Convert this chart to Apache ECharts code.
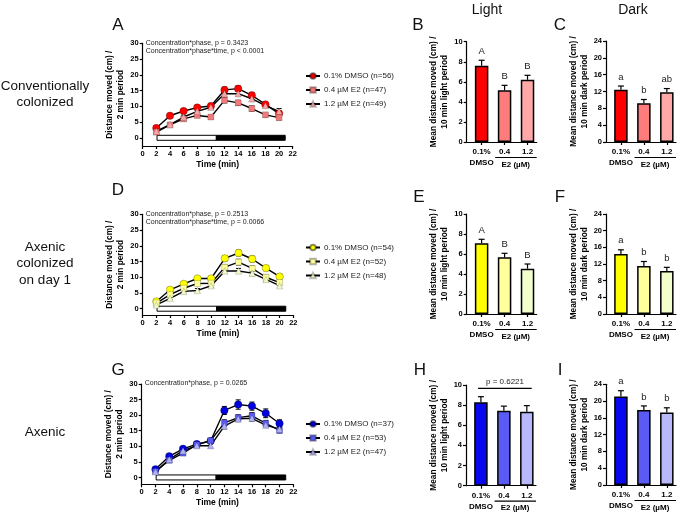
<!DOCTYPE html>
<html><head><meta charset="utf-8">
<script src="https://cdn.jsdelivr.net/npm/echarts@6/dist/echarts.min.js"></script>
<style>html,body{margin:0;padding:0;background:#fff}#c{width:685px;height:516px}</style>
</head><body><div id="c"></div>
<script>
// ---------- DATA ----------
const timePoints = [2,4,6,8,10,12,14,16,18,20];
const lineYTicks = [0,5,10,15,20,25,30];
const phases = [[2.1,10.8,'light'],[10.8,20.9,'dark']];
const barCats = ['0.1%\nDMSO','0.4','1.2'];

// Panel A (conventionally colonized)
const aNames = ['0.1% DMSO (n=56)','0.4 µM E2 (n=47)','1.2 µM E2 (n=49)'];
const aDmso = [3.1,7.0,8.5,9.6,10.1,15.2,15.6,13.5,10.6,7.7];
const aE04  = [1.8,4.1,6.0,7.1,6.6,11.9,11.1,9.3,7.3,6.4];
const aE12  = [2.1,4.2,6.6,8.4,9.7,14.0,14.0,12.4,10.2,8.4];
const aDmsoErr = [0.5,0.5,0.6,0.6,0.7,0.9,0.9,0.9,0.8,0.9];
const aE04Err  = [0.4,0.4,0.6,0.6,0.6,0.8,0.8,0.8,0.7,0.7];
const aE12Err  = [0.4,0.5,0.6,0.6,0.7,0.9,0.9,0.9,0.9,0.9];
const aStats = ['Concentration*phase, p = 0.3423','Concentration*phase*time, p < 0.0001'];

// Panel D (axenic colonized on day 1)
const dNames = ['0.1% DMSO (n=54)','0.4 µM E2 (n=52)','1.2 µM E2 (n=48)'];
const dDmso = [2.3,6.0,7.9,9.6,9.6,16.0,17.7,15.8,12.9,10.2];
const dE04  = [1.8,4.5,6.5,8.0,8.1,13.2,14.8,12.8,10.0,8.3];
const dE12  = [1.2,3.3,5.5,5.8,7.3,12.0,12.0,11.3,9.3,7.3];
const dDmsoErr = [0.4,0.5,0.6,0.6,0.7,0.8,0.9,0.9,0.8,0.8];
const dE04Err  = [0.4,0.5,0.6,0.6,0.6,0.8,0.9,0.8,0.7,0.7];
const dE12Err  = [0.4,0.5,0.5,0.6,0.6,0.8,0.8,0.8,0.7,0.7];
const dStats = ['Concentration*phase, p = 0.2513','Concentration*phase*time, p = 0.0066'];

// Panel G (axenic)
const gNames = ['0.1% DMSO (n=37)','0.4 µM E2 (n=53)','1.2 µM E2 (n=47)'];
const gDmso = [2.6,6.8,9.2,10.7,11.7,21.5,23.4,22.9,20.6,17.3];
const gE04  = [1.9,5.5,7.8,10.5,11.8,17.5,19.2,19.8,17.4,15.1];
const gE12  = [1.8,5.8,8.6,10.2,10.2,16.5,18.8,19.0,16.8,15.5];
const gDmsoErr = [0.5,0.6,0.7,0.7,0.8,1.3,1.5,1.3,1.4,1.2];
const gE04Err  = [0.4,0.5,0.6,0.6,0.7,1.0,0.9,1.0,0.9,0.8];
const gE12Err  = [0.4,0.5,0.6,0.6,0.6,0.9,0.9,0.9,0.8,0.8];
const gStats = ['Concentration*phase, p = 0.0265'];

// Bar panels: mean, SEM, letters
const bVals = [7.6,5.15,6.2];   const bErr = [0.55,0.5,0.45];  const bLetters = ['A','B','B'];
const cVals = [12.4,9.2,11.8];  const cErr = [0.9,0.9,0.9];    const cLetters = ['a','b','ab'];
const eVals = [7.07,5.67,4.53]; const eErr = [0.4,0.4,0.47];   const eLetters = ['A','B','B'];
const fVals = [14.4,11.5,10.3]; const fErr = [1.0,1.1,0.9];    const fLetters = ['a','b','b'];
const hVals = [8.28,7.45,7.35]; const hErr = [0.56,0.45,0.6];  const hLetters = ['','',''];
const iVals = [21.07,17.9,17.3];const iErr = [1.4,0.95,1.1];   const iLetters = ['a','b','b'];
const hPText = 'p = 0.6221';

// ---------- STYLE ----------
const FONT = '"Liberation Sans", Arial, Helvetica, sans-serif';
const redLine = ['#FF0000','#F37A7A','#F5A8A8'];
const redBar  = ['#FF0000','#FF7C7C','#FFA8A8'];
const yelLine = ['#FFFF00','#FFFF99','#EEF8C8'];
const yelBar  = ['#FFFF00','#FFFF9C','#F2FFCC'];
const bluLine = ['#0000E0','#5A5AF2','#B0B0F5'];
const bluBar  = ['#0808F0','#5A5AF5','#B8B8FA'];
const symbols = ['circle','rect','triangle'];
const symSizes = [7.5,6,6.5];
const symBorders = ['rgba(0,0,0,0.45)','rgba(0,0,0,0.3)','rgba(0,0,0,0.25)'];

const grids=[], xAxes=[], yAxes=[], series=[], legends=[], graphics=[];
const axLine = {show:true, onZero:false, lineStyle:{color:'#000', width:1.2}};
const axTick = {show:true, length:3, inside:false, lineStyle:{color:'#000', width:1.2}};
const tickFont = {fontSize:7.5, fontWeight:'bold', color:'#000', fontFamily:FONT};

function lineErrRender(params, api){
  const x=api.value(0), y=api.value(1), e=api.value(2);
  const lo=api.coord([x,y-e]), hi=api.coord([x,y+e]);
  const w=2.5, st={stroke:'#000', lineWidth:1};
  return {type:'group', children:[
    {type:'line', shape:{x1:lo[0],y1:lo[1],x2:hi[0],y2:hi[1]}, style:st},
    {type:'line', shape:{x1:lo[0]-w,y1:lo[1],x2:lo[0]+w,y2:lo[1]}, style:st},
    {type:'line', shape:{x1:hi[0]-w,y1:hi[1],x2:hi[0]+w,y2:hi[1]}, style:st}]};
}
function phaseRender(params, api){
  const a=api.coord([api.value(0),0]), b=api.coord([api.value(1),0]);
  const dark = params.dataIndex===1;
  return {type:'rect', shape:{x:a[0], y:a[1]-2.5, width:b[0]-a[0], height:5},
    style:{fill: dark?'#000':'#fff', stroke:'#000', lineWidth:1}};
}

function addLinePanel(cfg){
  const gi=grids.length;
  grids.push({left:cfg.left, top:cfg.top, width:cfg.width, height:cfg.height});
  xAxes.push({gridIndex:gi, type:'value', min:0, max:22, interval:2,
    axisLine:axLine, axisTick:axTick, splitLine:{show:false},
    axisLabel:Object.assign({margin:4}, tickFont),
    name:'Time (min)', nameLocation:'middle', nameGap:14,
    nameTextStyle:{fontSize:8.5, fontWeight:'bold', color:'#000', fontFamily:FONT}});
  yAxes.push({gridIndex:gi, type:'value', min:cfg.ymin, max:30,
    axisLine:axLine, splitLine:{show:false},
    axisTick:Object.assign({customValues:lineYTicks}, axTick),
    axisLabel:Object.assign({margin:4, customValues:lineYTicks}, tickFont),
    name:'Distance moved (cm) /\n2 min period', nameLocation:'middle', nameRotate:90, nameGap:13,
    nameTextStyle:{fontSize:8.3, fontWeight:'bold', color:'#000', fontFamily:FONT, lineHeight:11}});
  series.push({type:'custom', xAxisIndex:gi, yAxisIndex:gi, renderItem:phaseRender,
    data:phases.map(p=>[p[0],p[1]]), silent:true, z:1});
  cfg.vals.forEach((vals,k)=>{
    series.push({type:'custom', xAxisIndex:gi, yAxisIndex:gi, renderItem:lineErrRender,
      data:timePoints.map((t,i)=>[t, vals[i], cfg.errs[k][i]]), silent:true, z:2});
    series.push({type:'line', name:cfg.names[k], xAxisIndex:gi, yAxisIndex:gi,
      data:timePoints.map((t,i)=>[t, vals[i]]), symbol:symbols[k], symbolSize:symSizes[k],
      showAllSymbol:true, lineStyle:{color:'#000', width:1.4},
      itemStyle:{color:cfg.colors[k], borderColor:symBorders[k], borderWidth:0.6},
      emphasis:{disabled:true}, animation:false, z:3});
  });
  legends.push({data:cfg.names, orient:'vertical', left:cfg.legLeft, top:cfg.legTop,
    itemWidth:14, itemHeight:7, itemGap:6, selectedMode:false,
    textStyle:{fontSize:8, color:'#222', fontFamily:FONT, padding:[0,0,0,-1]}});
  cfg.stats.forEach((s,i)=>graphics.push({type:'text', left:cfg.left+3, top:cfg.top-4+i*8.5,
    style:{text:s, fontSize:7, fill:'#222', fontFamily:FONT}}));
}

function barErrRender(letters){
  return function(params, api){
    const x=api.value(0), y=api.value(1), e=api.value(2);
    const lo=api.coord([x,y]), hi=api.coord([x,y+e]);
    const w=3, st={stroke:'#000', lineWidth:1.2};
    const ch=[
      {type:'line', shape:{x1:lo[0],y1:lo[1],x2:hi[0],y2:hi[1]}, style:st},
      {type:'line', shape:{x1:hi[0]-w,y1:hi[1],x2:hi[0]+w,y2:hi[1]}, style:st}];
    const L=letters[params.dataIndex];
    if(L) ch.push({type:'text', x:hi[0], y:hi[1]-4, style:{text:L, fontSize:9.5, fill:'#222',
      fontFamily:FONT, align:'center', verticalAlign:'bottom'}});
    return {type:'group', children:ch};
  };
}

function addBarPanel(cfg){
  const gi=grids.length;
  grids.push({left:cfg.left, top:cfg.top, width:70, height:cfg.height});
  xAxes.push({gridIndex:gi, type:'value', min:-0.65, max:2.4,
    axisLine:axLine, splitLine:{show:false},
    axisTick:Object.assign({customValues:[0,1,2]}, axTick),
    axisLabel:Object.assign({margin:5, lineHeight:10.5, customValues:[0,1,2],
      formatter:v=>barCats[Math.round(v)]}, tickFont, {fontSize:8})});
  yAxes.push({gridIndex:gi, type:'value', min:0, max:cfg.max, interval:cfg.interval,
    axisLine:axLine, axisTick:axTick, splitLine:{show:false},
    axisLabel:Object.assign({margin:4}, tickFont),
    name:'Mean distance moved (cm) /\n10 min '+cfg.period+' period', nameLocation:'middle', nameRotate:90, nameGap:cfg.nameGap,
    nameTextStyle:{fontSize:8.3, fontWeight:'bold', color:'#000', fontFamily:FONT, lineHeight:11}});
  series.push({type:'bar', xAxisIndex:gi, yAxisIndex:gi, barWidth:13.5,
    data:cfg.vals.map((v,i)=>({value:[i,v], itemStyle:{color:cfg.colors[i]}})),
    itemStyle:{borderColor:'#000', borderWidth:1.5}, emphasis:{disabled:true}, z:2});
  series.push({type:'custom', xAxisIndex:gi, yAxisIndex:gi, renderItem:barErrRender(cfg.letters),
    data:cfg.vals.map((v,i)=>[i,v,cfg.errs[i]]), silent:true, z:3});
  const ly = cfg.top+cfg.height+15.5;
  graphics.push({type:'line', shape:{x1:cfg.left+28.5, y1:ly, x2:cfg.left+70, y2:ly}, style:{stroke:'#000', lineWidth:1.2}});
  graphics.push({type:'text', x:cfg.left+49, y:ly+3, style:{text:'E2 (µM)', fontSize:8, fontWeight:'bold', fill:'#000', fontFamily:FONT, align:'center', verticalAlign:'top'}});
}

// ---------- PANELS ----------
addLinePanel({left:142.7, top:43.3, width:150, height:102.7, ymin:-2.6,
  vals:[aDmso,aE04,aE12], errs:[aDmsoErr,aE04Err,aE12Err], names:aNames, colors:redLine,
  stats:aStats, legLeft:300, legTop:67});
addBarPanel({left:466.7, top:41.7, height:100.3, max:10, interval:2, period:'light', nameGap:16,
  vals:bVals, errs:bErr, letters:bLetters, colors:redBar});
addBarPanel({left:606, top:41, height:101, max:24, interval:4, period:'dark', nameGap:16,
  vals:cVals, errs:cErr, letters:cLetters, colors:redBar});

addLinePanel({left:142.7, top:214.3, width:150.6, height:100.7, ymin:-2.0,
  vals:[dDmso,dE04,dE12], errs:[dDmsoErr,dE04Err,dE12Err], names:dNames, colors:yelLine,
  stats:dStats, legLeft:300, legTop:238.5});
addBarPanel({left:466.7, top:214, height:100, max:10, interval:2, period:'light', nameGap:16,
  vals:eVals, errs:eErr, letters:eLetters, colors:yelBar});
addBarPanel({left:606, top:214, height:100, max:24, interval:4, period:'dark', nameGap:16,
  vals:fVals, errs:fErr, letters:fLetters, colors:yelBar});

addLinePanel({left:141.7, top:384, width:151.6, height:100.3, ymin:-2.2,
  vals:[gDmso,gE04,gE12], errs:[gDmsoErr,gE04Err,gE12Err], names:gNames, colors:bluLine,
  stats:gStats, legLeft:300, legTop:415});
addBarPanel({left:466, top:385, height:100.7, max:10, interval:2, period:'light', nameGap:16,
  vals:hVals, errs:hErr, letters:hLetters, colors:bluBar});
addBarPanel({left:606, top:384.3, height:100.7, max:24, interval:4, period:'dark', nameGap:16,
  vals:iVals, errs:iErr, letters:iLetters, colors:bluBar});

// H p-value bracket
graphics.push({type:'line', shape:{x1:478, y1:388.3, x2:531.7, y2:388.3}, style:{stroke:'#000', lineWidth:1.2}});
graphics.push({type:'text', x:505, y:385.5, style:{text:hPText, fontSize:8, fill:'#222', fontFamily:FONT, align:'center', verticalAlign:'bottom'}});

// Headers and row labels
const T=(txt,x,y,size,extra)=>graphics.push({type:'text', x:x, y:y, style:Object.assign({text:txt, fontSize:size, fill:'#111', fontFamily:FONT, align:'center', verticalAlign:'middle'}, extra||{})});
T('Light',487,10,14); T('Dark',633,10,14);
T('Conventionally\ncolonized',45,94,13.5,{lineHeight:16});
T('Axenic\ncolonized\non day 1',45,263.5,13.5,{lineHeight:16.5});
T('Axenic',45,432,13.5);
[['A',118,25],['B',418,25],['C',560,25],['D',118,190],['E',419,197],['F',560,197],['G',118,370],['H',420,370],['I',560,370]]
  .forEach(p=>T(p[0],p[1],p[2],17));

const chart = echarts.init(document.getElementById('c'), null, {renderer:'canvas'});
chart.setOption({animation:false, backgroundColor:'#fff', grid:grids, xAxis:xAxes, yAxis:yAxes,
  series:series, legend:legends, graphic:graphics, tooltip:{show:false}});
</script></body></html>
